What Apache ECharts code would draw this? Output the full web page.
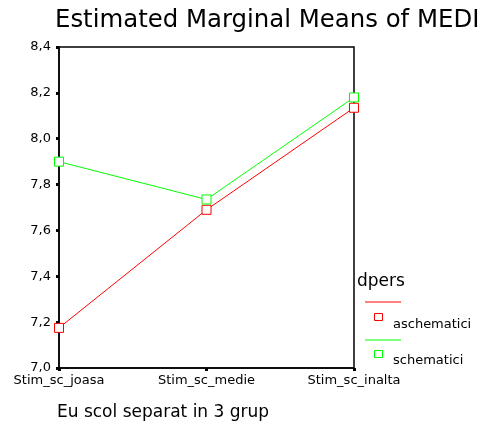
<!DOCTYPE html>
<html><head><meta charset="utf-8">
<script src="https://cdn.jsdelivr.net/npm/echarts@6/dist/echarts.min.js"></script>
<style>html,body{margin:0;padding:0;background:#fff}#c{width:486px;height:428px}</style>
</head><body><div id="c"></div>
<script>
const categories = ['Stim_sc_joasa', 'Stim_sc_medie', 'Stim_sc_inalta'];
const aschematici = [7.175, 7.69, 8.135];
const schematici = [7.90, 7.735, 8.18];
const seriesNames = ['aschematici', 'schematici'];
const yTicks = [7.0, 7.2, 7.4, 7.6, 7.8, 8.0, 8.2, 8.4];

const FONT = '"DejaVu Sans", sans-serif';
const RED = '#ff0000', GREEN = '#00ff00';
const chart = echarts.init(document.getElementById('c'), null, {renderer: 'canvas'});
const mkSeries = (name, data, color) => ({
  name, type: 'line', data,
  symbol: 'rect', symbolSize: 9,
  lineStyle: {color, width: 1},
  itemStyle: {color: '#fff', borderColor: color, borderWidth: 1},
  emphasis: {disabled: true}, animation: false
});
chart.setOption({
  animation: false,
  grid: {left: 59, right: 132, top: 47, bottom: 60, show: true, borderColor: '#000', borderWidth: 1.5, backgroundColor: 'transparent'},
  xAxis: {type: 'category', data: categories, boundaryGap: false,
    axisLine: {lineStyle: {color: '#000', width: 1.5}},
    axisTick: {show: true, length: 3, lineStyle: {color: '#000', width: 3}},
    axisLabel: {color: '#000', fontFamily: FONT, fontSize: 13, margin: 6, interval: 0},
    splitLine: {show: false}},
  yAxis: {type: 'value', min: yTicks[0], max: yTicks[yTicks.length - 1], interval: 0.2,
    axisLine: {show: true, lineStyle: {color: '#000', width: 1.5}},
    axisTick: {show: true, length: 3, lineStyle: {color: '#000', width: 3}},
    axisLabel: {color: '#000', fontFamily: FONT, fontSize: 13, margin: 8,
      formatter: v => v.toFixed(1).replace('.', ',')},
    splitLine: {show: false}},
  series: [mkSeries(seriesNames[0], aschematici, RED), mkSeries(seriesNames[1], schematici, GREEN)],
  graphic: [
    {type: 'text', left: 55, top: 9, style: {text: 'Estimated Marginal Means of MEDI', font: '24.4px ' + FONT, fill: '#000'}},
    {type: 'text', left: 357, top: 273, style: {text: 'dpers', font: '17px ' + FONT, fill: '#000'}},
    {type: 'line', shape: {x1: 365, y1: 302, x2: 401, y2: 302}, style: {stroke: RED, lineWidth: 1}},
    {type: 'rect', shape: {x: 374.5, y: 313.5, width: 8, height: 7}, style: {fill: '#fff', stroke: RED, lineWidth: 1}},
    {type: 'text', left: 393, top: 318, style: {text: seriesNames[0], font: '13px ' + FONT, fill: '#000'}},
    {type: 'line', shape: {x1: 365, y1: 340, x2: 401, y2: 340}, style: {stroke: GREEN, lineWidth: 1}},
    {type: 'rect', shape: {x: 374.5, y: 350.5, width: 8, height: 7}, style: {fill: '#fff', stroke: GREEN, lineWidth: 1}},
    {type: 'text', left: 393, top: 354, style: {text: seriesNames[1], font: '13px ' + FONT, fill: '#000'}},
    {type: 'text', left: 57, top: 404, style: {text: 'Eu scol separat in 3 grup', font: '17px ' + FONT, fill: '#000'}}
  ]
});
</script></body></html>
